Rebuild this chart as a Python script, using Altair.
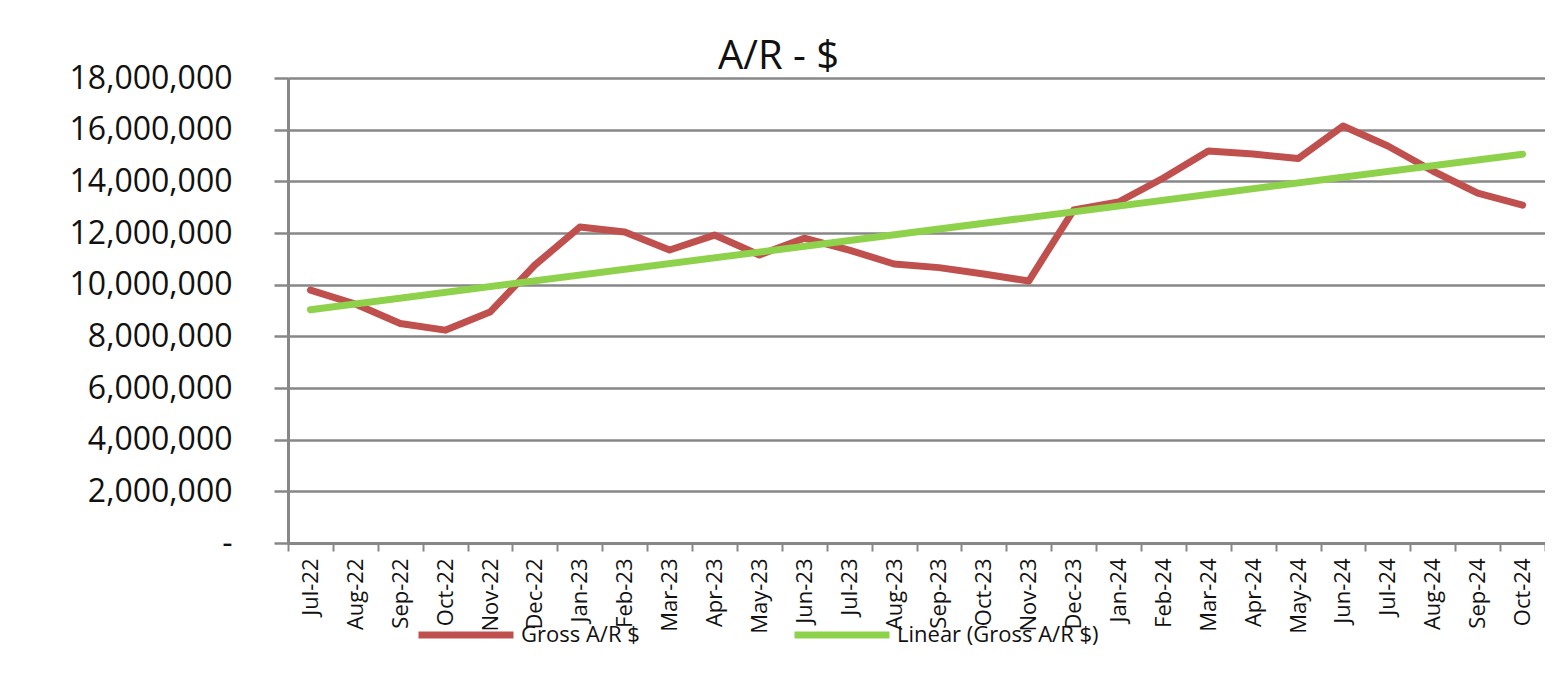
import json
import altair as alt
import pandas as pd

# ---- data ----
months = ["Jul-22", "Aug-22", "Sep-22", "Oct-22", "Nov-22", "Dec-22",
          "Jan-23", "Feb-23", "Mar-23", "Apr-23", "May-23", "Jun-23",
          "Jul-23", "Aug-23", "Sep-23", "Oct-23", "Nov-23", "Dec-23",
          "Jan-24", "Feb-24", "Mar-24", "Apr-24", "May-24", "Jun-24",
          "Jul-24", "Aug-24", "Sep-24", "Oct-24"]
gross_ar = [9790000, 9250000, 8500000, 8240000, 8940000, 10760000,
            12230000, 12040000, 11340000, 11920000, 11150000, 11800000,
            11340000, 10800000, 10660000, 10410000, 10140000, 12890000,
            13200000, 14130000, 15170000, 15060000, 14880000, 16140000,
            15370000, 14400000, 13540000, 13080000]
y_ticks = [0, 2000000, 4000000, 6000000, 8000000, 10000000,
           12000000, 14000000, 16000000, 18000000]
series_name = "Gross A/R $"
trend_name = "Linear (Gross A/R $)"
title_text = "A/R - $"

df = pd.DataFrame({"idx": list(range(len(months))), "month": months,
                   "value": gross_ar, "series": series_name})

# ---- styling ----
W, H = 1257, 465
band = W / len(months)
FONT = "Open Sans"
GRID = "#878787"
RED = "#C0504D"
GREEN = "#8ED24C"

label_expr = (f"datum.value > {len(months) - 1} ? '' : "
              f"{json.dumps(months)}[round(datum.value + 0.5)]")

x_enc = alt.X(
    "idx:Q",
    scale=alt.Scale(domain=[-0.5, len(months) - 0.5], nice=False, zero=False),
    axis=alt.Axis(
        values=[i - 0.5 for i in range(len(months) + 1)],
        labelExpr=label_expr, labelAngle=270, labelOffset=band / 2,
        labelOverlap=False, labelFlush=False, labelBound=False,
        grid=False, title=None, tickSize=8, tickColor=GRID, tickWidth=2,
        domainColor=GRID, domainWidth=3, labelFont=FONT, labelFontSize=22,
        labelColor="#111111", labelPadding=7,
    ),
)
y_enc = alt.Y(
    "value:Q",
    scale=alt.Scale(domain=[0, 18000000], nice=False),
    axis=alt.Axis(
        values=y_ticks,
        labelExpr="datum.value == 0 ? '-\u00a0\u00a0' : format(datum.value, ',')",
        grid=True, gridColor=GRID, gridWidth=2.5, title=None,
        tickSize=14, tickColor=GRID, tickWidth=2.5,
        domainColor=GRID, domainWidth=3,
        labelFont=FONT, labelFontSize=32, labelColor="#111111",
        labelPadding=42,
    ),
)
color_enc = alt.Color(
    "series:N",
    scale=alt.Scale(domain=[series_name, trend_name], range=[RED, GREEN]),
    legend=alt.Legend(
        orient="none", legendX=127, legendY=506, direction="horizontal",
        title=None, symbolType="stroke", symbolSize=9025,
        symbolStrokeWidth=7, labelFont=FONT, labelFontSize=22,
        labelColor="#111111", columnPadding=140, labelOffset=4,
        labelLimit=400,
    ),
)

base = alt.Chart(df)
actual = base.mark_line(strokeWidth=7, strokeJoin="round", strokeCap="round").encode(
    x=x_enc, y=y_enc, color=color_enc)
trend = (base.transform_regression("idx", "value")
         .transform_calculate(series=json.dumps(trend_name))
         .mark_line(strokeWidth=7, strokeCap="round")
         .encode(x=x_enc, y=y_enc, color=color_enc))

chart = (
    alt.layer(actual, trend)
    .properties(
        width=W, height=H,
        title=alt.TitleParams(title_text, font=FONT, fontSize=40,
                              fontWeight="normal", color="#111111",
                              anchor="middle", dx=-138, dy=17, offset=2),
        autosize=alt.AutoSizeParams(type="none"),
        padding={"left": 280, "top": 70, "right": 0, "bottom": 125},
    )
    .configure_view(stroke=None)
    .configure(background="white")
)

chart.save("out.html", embed_options={"renderer": "svg", "actions": False})
